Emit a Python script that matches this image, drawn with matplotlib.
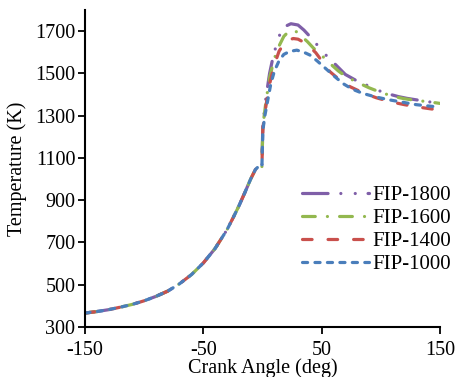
import matplotlib.pyplot as plt

plt.rcParams['font.family'] = ['Liberation Serif', 'DejaVu Serif']
plt.rcParams['axes.unicode_minus'] = False

# shared compression stroke (all cases overlap before TDC)
ca_comp = [-150, -140, -130, -120, -110, -100, -90, -80, -70, -60, -50, -40, -30, -25, -20, -15, -10, -6, -3, -0.5]
t_comp = [366, 373, 382, 394, 407, 424, 445, 470, 505, 548, 603, 672, 760, 815, 872, 935, 1000, 1045, 1062, 1058]

labels = ['FIP-1800', 'FIP-1600', 'FIP-1400', 'FIP-1000']

ca_1800 = [0.3, 3, 6, 9, 12, 15, 19, 24, 30, 35, 39, 44, 48, 55, 62, 70, 78, 86, 95, 105, 115, 122, 131, 140, 150]
t_1800 = [1260, 1390, 1500, 1580, 1640, 1690, 1722, 1735, 1729, 1705, 1681, 1650, 1622, 1578, 1540, 1495, 1470, 1450, 1425, 1405, 1390, 1382, 1374, 1366, 1358]

ca_1600 = [0.3, 3, 6, 10, 14, 18, 22, 25, 28, 32, 38, 43, 50, 57, 64, 70, 80, 90, 100, 110, 120, 130, 140, 150]
t_1600 = [1250, 1370, 1480, 1570, 1630, 1675, 1698, 1705, 1700, 1681, 1650, 1620, 1585, 1547, 1512, 1487, 1458, 1432, 1410, 1392, 1380, 1372, 1366, 1358]

ca_1400 = [0.3, 3, 6, 10, 14, 18, 22, 26, 30, 37, 45, 52, 57, 65, 74, 85, 96, 108, 120, 130, 140, 150]
t_1400 = [1240, 1350, 1450, 1540, 1605, 1640, 1658, 1665, 1662, 1641, 1598, 1545, 1508, 1470, 1437, 1408, 1385, 1366, 1352, 1342, 1334, 1326]

ca_1000 = [0.3, 2, 4, 7, 10, 14, 18, 23, 29, 35, 40, 46, 52, 60, 68, 76, 85, 96, 108, 120, 130, 140, 150]
t_1000 = [1230, 1300, 1360, 1450, 1510, 1560, 1590, 1604, 1610, 1600, 1587, 1560, 1530, 1490, 1452, 1425, 1405, 1388, 1374, 1362, 1352, 1346, 1340]

colors = ['#7f5fa8', '#93b84f', '#c9504c', '#4a7ebb']
styles = [(0, (8, 4, 0.01, 4.5, 0.01, 4)),
          (0, (4, 3.8, 0.01, 3.8)),
          (0, (3, 5)),
          (0, (1.6, 2.3))]

series = [(ca_1800, t_1800), (ca_1600, t_1600), (ca_1400, t_1400), (ca_1000, t_1000)]

fig = plt.figure(figsize=(4.56, 3.77), dpi=100)
ax = fig.add_axes([85/456, 1 - 327/377, 355/456, 317/377])

for (ca, t), lab, col, ls in zip(series, labels, colors, styles):
    ax.plot(ca_comp + ca, t_comp + t, color=col, linestyle=ls, linewidth=2.3,
            dash_capstyle='round', label=lab)

ax.set_xlim(-150, 150)
ax.set_ylim(300, 1800)
ax.set_xticks([-150, -50, 50, 150])
ax.set_yticks(range(300, 1701, 200))
ax.tick_params(direction='out', length=5, width=1.3, labelsize=14.5)
ax.tick_params(axis='x', pad=5)
ax.tick_params(axis='y', pad=2)
for side in ['top', 'right']:
    ax.spines[side].set_visible(False)
for side in ['left', 'bottom']:
    ax.spines[side].set_linewidth(1.5)

ax.set_xlabel('Crank Angle (deg)', fontsize=14.5, labelpad=-1)
ax.set_ylabel('Temperature (K)', fontsize=14.5, labelpad=6)

ax.legend(loc='upper left', bbox_to_anchor=(0.611, 0.446), frameon=False,
          fontsize=15, handlelength=3.2, handletextpad=0.2, labelspacing=0.16,
          borderpad=0, borderaxespad=0)

fig.savefig('out.png', dpi=100)
